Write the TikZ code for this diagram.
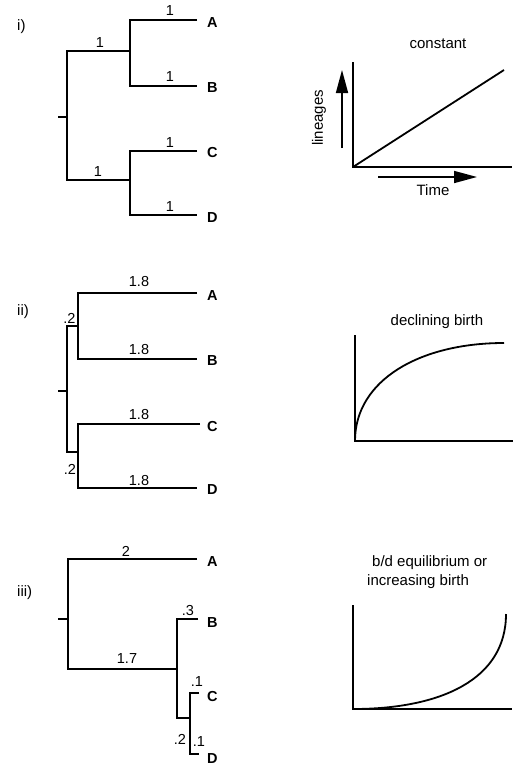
\documentclass[tikz,border=0pt]{standalone}
\usepackage{fontspec}
\setmainfont{Liberation Sans}
\usetikzlibrary{arrows.meta}
\tikzset{
  branch/.style={-,line width=1.8pt},
  axis/.style={-,line width=1.8pt},
  blen/.style={font=\fontsize{14.5}{16}\selectfont,inner sep=0pt},
  taxon/.style={font=\fontsize{14.5}{16}\selectfont\bfseries,inner sep=0pt,anchor=west},
  panel/.style={font=\fontsize{15}{17}\selectfont,inner sep=0pt,anchor=west},
  gtitle/.style={font=\fontsize{15}{19}\selectfont,inner sep=0pt},
  bigarrow/.style={line width=1.6pt,-{Triangle[length=23pt,width=12pt]}}
}
\begin{document}
\begin{tikzpicture}[x=1pt,y=-1pt]
        \useasboundingbox (0,0) rectangle (517,769);
        % albero i
        \coordinate (s1) at (58,117);\coordinate (r1) at (67,117);
        \coordinate (n1a) at (130,51);\coordinate (n1b) at (130,180);
        \coordinate (a1) at (197,20);\coordinate (b1) at (197,86);
        \coordinate (c1) at (197,151);\coordinate (d1) at (197,215);
        \draw [branch] (s1) -- (r1);
        \draw [branch] (n1a) -| (r1) |- (n1b);
        \draw [branch] (a1) -| (n1a) |- (b1);
        \draw [branch] (c1) -| (n1b) |- (d1);
        \node [panel] (p1) at (17,27) {i)};
        \node [blen] (l1a) at (100,43) {1};\node [blen] (l1b) at (98,172) {1};
        \node [blen] (l1c) at (170,11) {1};\node [blen] (l1d) at (170,77) {1};
        \node [blen] (l1e) at (170,143) {1};\node [blen] (l1f) at (170,207) {1};
        \node [taxon] (tA1) at (207,23) {A};\node [taxon] (tB1) at (207,88) {B};
        \node [taxon] (tC1) at (207,153) {C};\node [taxon] (tD1) at (207,218) {D};
        % grafico i
        \coordinate (o1) at (353,167);\coordinate (y1) at (353,62);
        \coordinate (x1) at (512,167);\coordinate (e1) at (504,70);
        \coordinate (v1s) at (342,148);\coordinate (v1e) at (342,70);
        \coordinate (h1s) at (378,177);\coordinate (h1e) at (477,177);
        \draw [axis] (y1) -- (o1) -- (x1);
        \draw [axis] (o1) -- (e1);
        \draw [bigarrow] (v1s) -- (v1e);
        \draw [bigarrow] (h1s) -- (h1e);
        \node [gtitle] (g1) at (438,44) {constant};
        \node [gtitle,rotate=90] (yl1) at (319,118) {lineages};
        \node [gtitle] (xl1) at (433,190) {Time};
        % albero ii
        \coordinate (s2) at (58,391);\coordinate (r2) at (67,391);
        \coordinate (n2a) at (78,326);\coordinate (n2b) at (78,452);
        \coordinate (a2) at (197,293);\coordinate (b2) at (197,359);
        \coordinate (c2) at (200,424);\coordinate (d2) at (197,488);
        \draw [branch] (s2) -- (r2);
        \draw [branch] (n2a) -| (r2) |- (n2b);
        \draw [branch] (a2) -| (n2a) |- (b2);
        \draw [branch] (c2) -| (n2b) |- (d2);
        \node [panel] (p2) at (17,312) {ii)};
        \node [blen] (l2a) at (69.5,318) {.2};\node [blen] (l2b) at (70,469) {.2};
        \node [blen] (l2c) at (139,282) {1.8};\node [blen] (l2d) at (139,350) {1.8};
        \node [blen] (l2e) at (139,415) {1.8};\node [blen] (l2f) at (139,481) {1.8};
        \node [taxon] (tA2) at (207,296) {A};\node [taxon] (tB2) at (207,361) {B};
        \node [taxon] (tC2) at (207,427) {C};\node [taxon] (tD2) at (207,490) {D};
        % grafico ii
        \coordinate (o2) at (355,441);\coordinate (y2) at (355,335);
        \coordinate (x2) at (513,441);\coordinate (e2) at (504,343);
        \draw [axis] (y2) -- (o2) -- (x2);
        \draw [axis] (o2) .. controls (355,380) and (420,343) .. (e2);
        \node [gtitle] (g2) at (437,322) {declining birth};
        % albero iii
        \coordinate (s3) at (58,619);\coordinate (r3) at (68,619);
        \coordinate (n3a) at (177,669);\coordinate (n3b) at (190,718);
        \coordinate (a3) at (197,559);\coordinate (b3) at (198,619);
        \coordinate (c3) at (199,693);\coordinate (d3) at (199,754);
        \draw [branch] (s3) -- (r3);
        \draw [branch] (a3) -| (r3) |- (n3a);
        \draw [branch] (b3) -| (n3a) |- (n3b);
        \draw [branch] (c3) -| (n3b) |- (d3);
        \node [panel] (p3) at (17,593) {iii)};
        \node [blen] (l3a) at (126,551) {2};\node [blen] (l3b) at (127,659) {1.7};
        \node [blen] (l3c) at (188,611) {.3};\node [blen] (l3d) at (197,682) {.1};
        \node [blen] (l3e) at (180,739) {.2};\node [blen] (l3f) at (199,742) {.1};
        \node [taxon] (tA3) at (207,562) {A};\node [taxon] (tB3) at (207,623) {B};
        \node [taxon] (tC3) at (207,696) {C};\node [taxon] (tD3) at (207,759) {D};
        % grafico iii
        \coordinate (o3) at (353,709);\coordinate (y3) at (353,605);
        \coordinate (x3) at (512,709);\coordinate (e3) at (506,614);
        \draw [axis] (y3) -- (o3) -- (x3);
        \draw [axis] (o3) .. controls (440,709) and (506,680) .. (e3);
        \node [gtitle,align=left,anchor=north west] (g3) at (367,555) {\hspace*{5pt}b/d equilibrium or\\increasing birth};
    \end{tikzpicture}
\end{document}
